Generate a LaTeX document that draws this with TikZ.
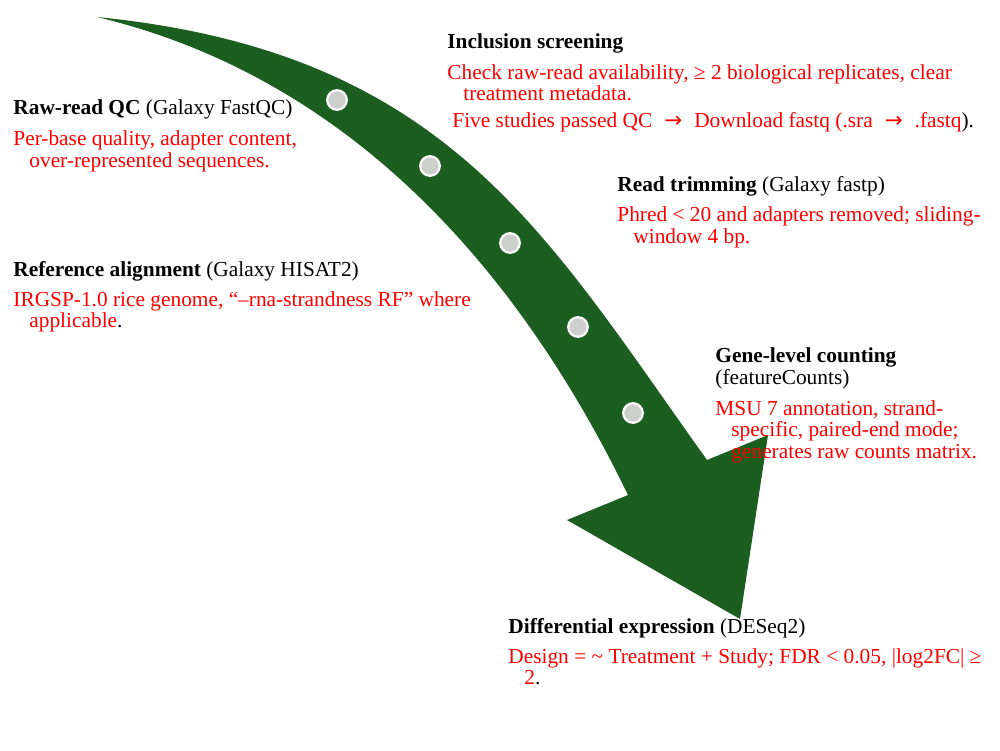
\documentclass[tikz,border=0pt]{standalone}
\usepackage{fontspec}
\setmainfont{Liberation Serif}
\newfontfamily\arrowfont{DejaVu Sans}
\usepackage{tikz}
\definecolor{arrowgreen}{RGB}{27,94,32}
\definecolor{dotgray}{RGB}{204,207,204}
\newcommand{\toarrow}{\hspace{6pt}{\arrowfont →}\hspace{6pt}}

\begin{document}
\begin{tikzpicture}[x=0.5pt, y=-0.5pt, font=\fontsize{10.68}{10.75}\selectfont,
  stephead/.style={anchor=base west, inner sep=0pt},
  stepnote/.style={anchor=base west, inner sep=0pt, align=left, text=red},
  stepdot/.style={circle, fill=dotgray, draw=white, line width=1.1pt, inner sep=0pt, minimum size=9.8pt}]
  \useasboundingbox (0,0) rectangle (1000,750);
  % curved arrow
  \fill[arrowgreen] (97,17) .. controls (447,52) and (544,232) .. (707,460)
    -- (768,435) -- (740,619) -- (567,520) -- (628,495)
    .. controls (532,297) and (369,82) .. (97,17) -- cycle;
  \foreach \px/\py [count=\i] in {337/100, 430/166, 510/243, 578/327, 633/413}
    \node[stepdot] (dot\i) at (\px,\py) {};
  % steps (base anchor = last line)
  \node[stephead] (screenhead) at (447,48) {\textbf{Inclusion screening}};
  \node[stepnote] (screennote) at (447,127) {Check raw-read availability, ≥ 2 biological replicates, clear\\
    \hspace*{8pt}treatment metadata.\\[2.4pt]
    \hspace*{2.5pt}Five studies passed QC\toarrow Download fastq (.sra\toarrow .fastq\textcolor{black}{).}};
  \node[stephead] (qchead) at (13,114) {\textbf{Raw-read QC} (Galaxy FastQC)};
  \node[stepnote] (qcnote) at (13,167) {Per-base quality, adapter content,\\
    \hspace*{8pt}over-represented sequences.};
  \node[stephead] (trimhead) at (617,191.5) {\textbf{Read trimming} (Galaxy fastp)};
  \node[stepnote] (trimnote) at (617,243) {Phred < 20 and adapters removed; sliding-\\
    \hspace*{8pt}window 4 bp.};
  \node[stephead] (alignhead) at (13,276) {\textbf{Reference alignment} (Galaxy HISAT2)};
  \node[stepnote] (alignnote) at (13,327.5) {IRGSP-1.0 rice genome, “–rna-strandness RF” where\\
    \hspace*{8pt}applicable\textcolor{black}{.}};
  \node[stephead, align=left] (counthead) at (715,384) {\textbf{Gene-level counting}\\(featureCounts)};
  \node[stepnote] (countnote) at (715,458) {MSU 7 annotation, strand-\\
    \hspace*{8pt}specific, paired-end mode;\\
    \hspace*{8pt}generates raw counts matrix.};
  \node[stephead] (deghead) at (508,633) {\textbf{Differential expression} (DESeq2)};
  \node[stepnote] (degnote) at (508,684.5) {Design = \textasciitilde{} Treatment + Study; FDR < 0.05, |log2FC| ≥\\
    \hspace*{8pt}2\textcolor{black}{.}};
\end{tikzpicture}
\end{document}
